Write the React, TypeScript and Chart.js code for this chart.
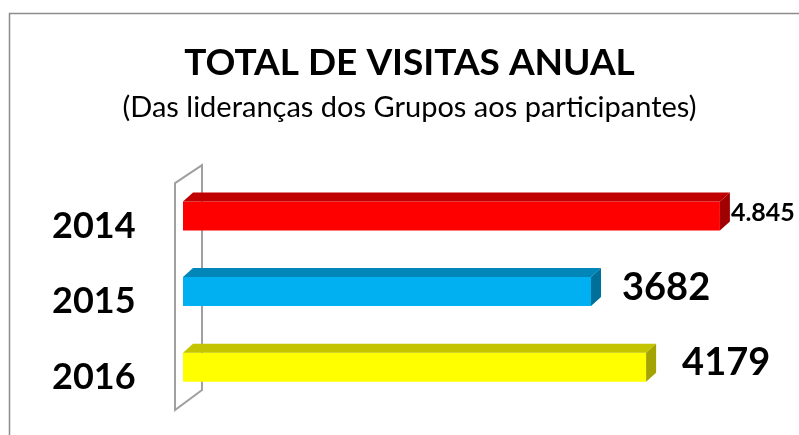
import React, { useEffect, useRef } from "react";
import { Chart, registerables } from "chart.js";

Chart.register(...registerables);

const categories = ["2014", "2015", "2016"];
const visits = [4845, 3682, 4179];
const valueLabels = ["4.845", "3682", "4179"];
const titleText = "TOTAL DE VISITAS ANUAL";
const subtitleText = "(Das lideranças dos Grupos aos participantes)";

const frontColors = ["#FF0000", "#00B0F0", "#FFFF00"];
const topColors = ["#C00000", "#0086B8", "#C4C400"];
const sideColors = ["#A00000", "#006F9A", "#A4A400"];
const labelSizes = [25, 38, 38];
const labelGaps = [11, 31, 36];
const labelShift = [-3, -4, -4];

const FONT = "Lato, 'Open Sans', sans-serif";
const DX = 10;
const DY = 9;

const threeD = {
  id: "threeD",
  beforeDraw(chart: any) {
    const ctx = chart.ctx;
    ctx.save();
    ctx.fillStyle = "#ffffff";
    ctx.fillRect(0, 0, chart.width, chart.height);
    ctx.strokeStyle = "#8c8c8c";
    ctx.lineWidth = 1.5;
    ctx.strokeRect(9.5, 13.5, chart.width + 50, chart.height + 50);
    ctx.restore();
  },
  beforeDatasetsDraw(chart: any) {
    const ctx = chart.ctx;
    const a = chart.chartArea;
    ctx.save();
    ctx.strokeStyle = "#a0a0a0";
    ctx.lineWidth = 2;
    ctx.beginPath();
    ctx.moveTo(a.left - 8, a.top + 5);
    ctx.lineTo(a.left + 19, a.top - 13);
    ctx.lineTo(a.left + 19, a.bottom - 15);
    ctx.lineTo(a.left - 8, a.bottom + 5);
    ctx.closePath();
    ctx.stroke();
    ctx.restore();
  },
  afterDatasetsDraw(chart: any) {
    const ctx = chart.ctx;
    const meta = chart.getDatasetMeta(0);
    ctx.save();
    meta.data.forEach((bar: any, i: number) => {
      const p = bar.getProps(["x", "y", "base", "height"], true);
      const top = p.y - p.height / 2;
      const bottom = p.y + p.height / 2;
      ctx.fillStyle = topColors[i];
      ctx.beginPath();
      ctx.moveTo(p.base, top);
      ctx.lineTo(p.base + DX, top - DY);
      ctx.lineTo(p.x + DX, top - DY);
      ctx.lineTo(p.x, top);
      ctx.closePath();
      ctx.fill();
      ctx.fillStyle = sideColors[i];
      ctx.beginPath();
      ctx.moveTo(p.x, top);
      ctx.lineTo(p.x + DX, top - DY);
      ctx.lineTo(p.x + DX, bottom - DY);
      ctx.lineTo(p.x, bottom);
      ctx.closePath();
      ctx.fill();
      ctx.fillStyle = "#000000";
      ctx.font = `bold ${labelSizes[i]}px ${FONT}`;
      ctx.textAlign = "left";
      ctx.textBaseline = "middle";
      ctx.fillText(valueLabels[i], p.x + labelGaps[i], p.y + labelShift[i]);
    });
    ctx.restore();
  },
};

export default function App() {
  const ref = useRef<HTMLCanvasElement>(null);
  useEffect(() => {
    if (!ref.current) return;
    const chart = new Chart(ref.current, {
      type: "bar",
      data: {
        labels: categories,
        datasets: [
          {
            data: visits,
            backgroundColor: frontColors,
            borderWidth: 0,
            barPercentage: 0.383,
            categoryPercentage: 1,
          },
        ],
      },
      options: {
        indexAxis: "y",
        animation: false,
        responsive: false,
        events: [],
        layout: { padding: { left: 52, right: 32, top: 0, bottom: 30 } },
        scales: {
          x: { display: false, min: 0, max: 5270 },
          y: {
            grid: { display: false },
            border: { display: false },
            afterFit: (s: any) => {
              s.width = 131;
            },
            ticks: {
              color: "#000000",
              font: { family: FONT, size: 36, weight: "bold" },
              padding: 0,
              crossAlign: "far",
              labelOffset: 10,
            },
          },
        },
        plugins: {
          legend: { display: false },
          tooltip: { enabled: false },
          title: {
            display: true,
            text: titleText,
            color: "#000000",
            font: { family: FONT, size: 37, weight: "bold", lineHeight: 1.2 },
            padding: { top: 41, bottom: 0 },
          },
          subtitle: {
            display: true,
            text: subtitleText,
            color: "#000000",
            font: { family: FONT, size: 29, weight: "normal", lineHeight: 1.2 },
            padding: { top: 5, bottom: 53 },
          },
        },
      },
      plugins: [threeD],
    });
    return () => chart.destroy();
  }, []);
  return (
    <div style={{ position: "absolute", left: 0, top: 0, width: 799, height: 435 }}>
      <canvas ref={ref} width={799} height={435} />
    </div>
  );
}
